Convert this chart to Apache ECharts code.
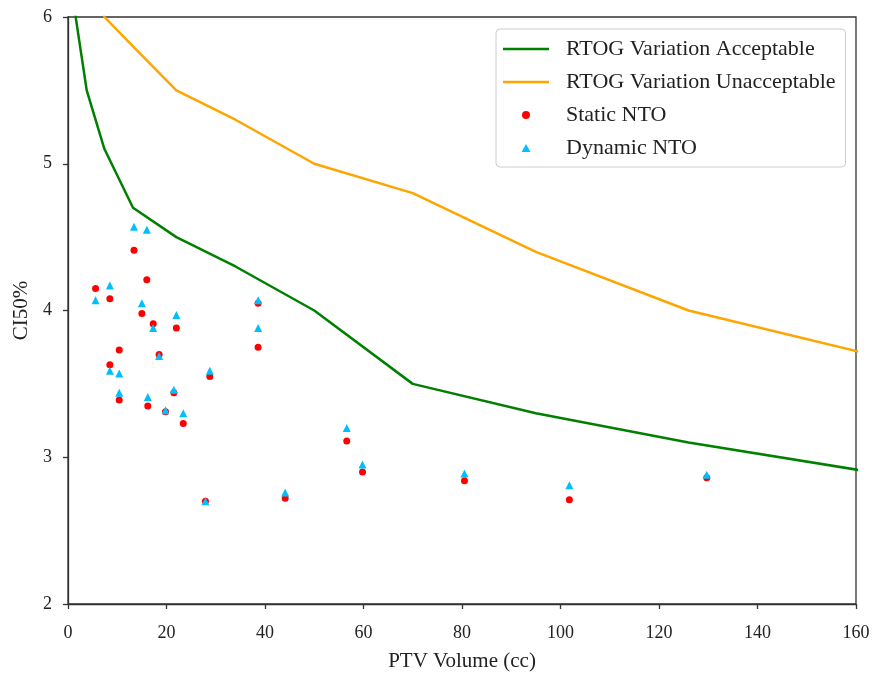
<!DOCTYPE html>
<html>
<head>
<meta charset="utf-8">
<script src="https://cdn.jsdelivr.net/npm/echarts@6/dist/echarts.min.js"></script>
<style>
html,body{margin:0;padding:0;background:#fff;}
#chart{width:874px;height:673px;}
</style>
</head>
<body>
<div id="chart"></div>
<script>
// RTOG guideline curves (PTV volume in cc, CI50%)
var acceptVol = [1.2, 3.8, 7.4, 13.2, 22.0, 34.0, 50.0, 70.0, 95.0, 126.0, 163.0];
var acceptCI  = [6.08, 5.5, 5.1, 4.7, 4.5, 4.3, 4.0, 3.5, 3.3, 3.1, 2.9];
var unaccVol  = [3.8, 7.4, 13.2, 22.0, 34.0, 50.0, 70.0, 95.0, 126.0, 163.0];
var unaccCI   = [6.5, 6.0, 5.8, 5.5, 5.3, 5.0, 4.8, 4.4, 4.0, 3.7];

// Measured plans
var staticVol  = [5.6, 8.5, 8.5, 10.4, 10.4, 13.4, 15.0, 16.0, 16.2, 17.3, 18.5, 19.8, 21.5, 22.0, 23.4, 27.9, 28.8, 38.6, 38.6, 44.1, 56.6, 59.8, 80.5, 101.8, 129.7];
var staticCI   = [4.15, 4.08, 3.63, 3.73, 3.39, 4.41, 3.98, 4.21, 3.35, 3.91, 3.70, 3.31, 3.44, 3.88, 3.23, 2.70, 3.55, 4.05, 3.75, 2.72, 3.11, 2.90, 2.84, 2.71, 2.86];
var dynamicVol = [5.6, 8.5, 8.5, 10.4, 10.4, 13.4, 15.0, 16.0, 16.2, 17.3, 18.5, 19.8, 21.5, 22.0, 23.4, 27.9, 28.8, 38.6, 38.6, 44.1, 56.6, 59.8, 80.5, 101.8, 129.7];
var dynamicCI  = [4.07, 4.17, 3.59, 3.57, 3.44, 4.57, 4.05, 4.55, 3.41, 3.88, 3.69, 3.32, 3.46, 3.97, 3.30, 2.70, 3.59, 4.07, 3.88, 2.76, 3.20, 2.95, 2.89, 2.81, 2.88];

var xTicks = [0, 20, 40, 60, 80, 100, 120, 140, 160];
var yTicks = [2, 3, 4, 5, 6];

function zip(a, b) { return a.map(function (v, i) { return [v, b[i]]; }); }

var FONT = '"Liberation Serif", "DejaVu Serif", serif';
var LINE_ICON = 'path://M0,0H46V2.5H0Z';
var TRI_ICON = 'path://M5,0L10,9L0,9Z';
var chart = echarts.init(document.getElementById('chart'), null, {renderer: 'canvas'});
chart.setOption({
  animation: false,
  backgroundColor: '#fff',
  grid: {left: 68, right: 18, top: 17, bottom: 69, containLabel: false, outerBoundsMode: 'none',
         show: true, borderColor: '#333', borderWidth: 1.3, backgroundColor: 'transparent'},
  xAxis: {
    type: 'value', min: xTicks[0], max: xTicks[xTicks.length - 1], interval: 20,
    name: 'PTV Volume (cc)', nameLocation: 'middle', nameGap: 47,
    nameTextStyle: {fontFamily: FONT, fontSize: 21, color: '#222'},
    axisLine: {show: true, onZero: false, lineStyle: {color: '#333', width: 1.3}},
    axisTick: {show: true, inside: false, length: 5, lineStyle: {color: '#333', width: 1.3}},
    axisLabel: {fontFamily: FONT, fontSize: 18, color: '#222', margin: 20},
    splitLine: {show: false}
  },
  yAxis: {
    type: 'value', min: yTicks[0], max: yTicks[yTicks.length - 1], interval: 1,
    name: 'CI50%', nameLocation: 'middle', nameGap: 35, nameRotate: 90,
    nameTextStyle: {fontFamily: FONT, fontSize: 21, color: '#222'},
    axisLine: {show: true, onZero: false, lineStyle: {color: '#333', width: 1.3}},
    axisTick: {show: true, inside: false, length: 5, lineStyle: {color: '#333', width: 1.3}},
    axisLabel: {fontFamily: FONT, fontSize: 18, color: '#222', margin: 16},
    splitLine: {show: false}
  },
  legend: {
    orient: 'vertical', left: 496, top: 29,
    padding: [9, 10, 8, 7],
    itemWidth: 46, itemHeight: 8, itemGap: 11, symbolKeepAspect: true,
    borderColor: '#ccc', borderWidth: 1, borderRadius: 4, backgroundColor: '#fff',
    textStyle: {fontFamily: FONT, fontSize: 22, color: '#222', padding: [0, 0, 0, 12], height: 20, lineHeight: 20},
    data: [
      {name: 'RTOG Variation Acceptable', icon: LINE_ICON},
      {name: 'RTOG Variation Unacceptable', icon: LINE_ICON},
      {name: 'Static NTO', icon: 'circle'},
      {name: 'Dynamic NTO', icon: TRI_ICON}
    ]
  },
  series: [
    {name: 'RTOG Variation Acceptable', type: 'line', data: zip(acceptVol, acceptCI), symbol: 'none', showSymbol: false, clip: true,
     lineStyle: {color: '#008000', width: 2.5}, itemStyle: {color: '#008000'}},
    {name: 'RTOG Variation Unacceptable', type: 'line', data: zip(unaccVol, unaccCI), symbol: 'none', showSymbol: false, clip: true,
     lineStyle: {color: '#ffa500', width: 2.5}, itemStyle: {color: '#ffa500'}},
    {name: 'Static NTO', type: 'scatter', data: zip(staticVol, staticCI), symbol: 'circle', symbolSize: 7,
     itemStyle: {color: '#ff0000', opacity: 1}},
    {name: 'Dynamic NTO', type: 'scatter', data: zip(dynamicVol, dynamicCI), symbol: 'triangle', symbolSize: 8,
     itemStyle: {color: '#00bfff', opacity: 1}}
  ]
});
</script>
</body>
</html>
